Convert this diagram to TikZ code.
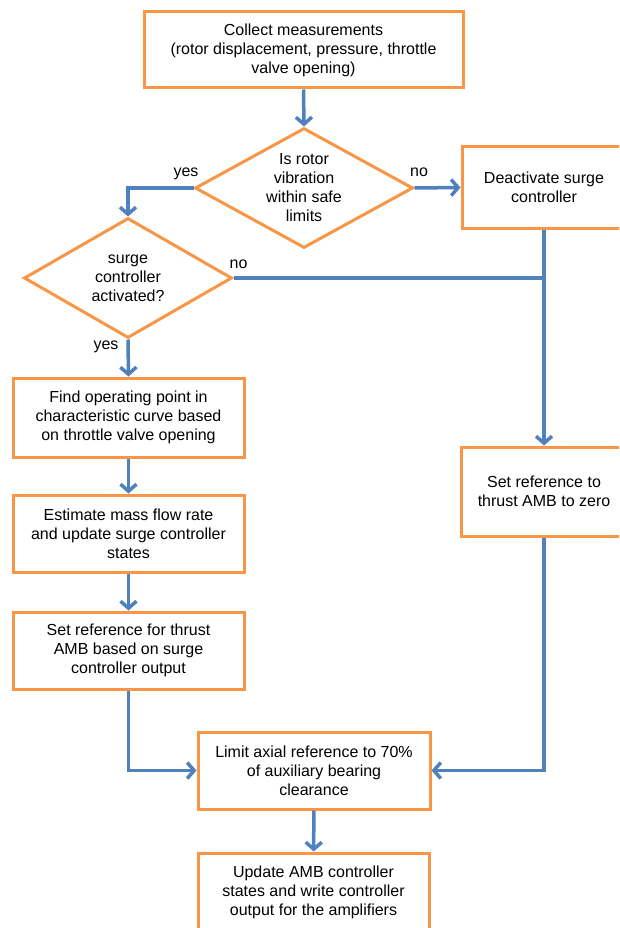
\documentclass[tikz,border=0pt]{standalone}
\usepackage{fontspec}
\setmainfont{Liberation Sans}
\usepackage{xcolor}
\usetikzlibrary{arrows.meta,shapes.geometric}
\definecolor{boxorange}{HTML}{F79646}
\definecolor{flowblue}{HTML}{4F81BD}
\tikzset{
  txt/.style={font={\fontsize{16}{19}\selectfont},align=center},
  process/.style={rectangle,draw=boxorange,fill=white,line width=3pt,txt,inner sep=2pt},
  decision/.style={diamond,draw=boxorange,fill=white,line width=3pt,inner sep=0pt},
  lbl/.style={font={\fontsize{16}{19}\selectfont},inner sep=0pt,anchor=base},
  flow/.style={-{Straight Barb[length=7pt,width=16pt]},draw=flowblue,line width=3.5pt},
  mergeline/.style={draw=flowblue,line width=3.5pt},
}

\begin{document}
\begin{tikzpicture}[x=1pt,y=-1pt]
  \useasboundingbox (0,0) rectangle (619,928);
  \clip (0,0) rectangle (619,928);
  \fill[white] (0,0) rectangle (619,928);

  \node[process,minimum width=319pt,minimum height=76pt] (meas) at (303.5,50)
    {Collect measurements\\(rotor displacement, pressure, throttle\\valve opening)};
  \node[decision,minimum width=218pt,minimum height=120pt,
    label={[txt]center:Is rotor\\vibration\\within safe\\limits}] (vib) at (304,188) {};
  \node[process,minimum width=164pt,minimum height=81pt] (deact) at (544,187.5)
    {Deactivate surge\\controller};
  \node[decision,minimum width=208pt,minimum height=120pt,
    label={[txt]center:surge\\controller\\activated?}] (act) at (128,278) {};
  \node[process,minimum width=231pt,minimum height=79pt] (oppt) at (128.5,417.5)
    {Find operating point in\\characteristic curve based\\on throttle valve opening};
  \node[process,minimum width=231pt,minimum height=77pt] (est) at (128.5,533.5)
    {Estimate mass flow rate\\and update surge controller\\states};
  \node[process,minimum width=231pt,minimum height=77pt] (setref) at (128.5,650.5)
    {Set reference for thrust\\AMB based on surge\\controller output};
  \node[process,minimum width=166pt,minimum height=89pt] (zero) at (544,491.5)
    {Set reference to\\thrust AMB to zero};
  \node[process,minimum width=232pt,minimum height=77pt] (limit) at (314,770.5)
    {Limit axial reference to 70\%\\of auxiliary bearing\\clearance};
  \node[process,minimum width=231pt,minimum height=78pt] (upd) at (313.5,892)
    {Update AMB controller\\states and write controller\\output for the amplifiers};

  % branch labels
  \node[lbl] (yes1) at (186,176) {yes};
  \node[lbl] (no1) at (419,176) {no};
  \node[lbl] (no2) at (238.5,268) {no};
  \node[lbl] (yes2) at (106,349) {yes};

  \draw[flow] (meas.south) -- (vib.north);
  \draw[flow] (vib.west) -| (act.north);
  \draw[flow] (vib.east) -- (deact.west);
  \draw[flow] (deact.south) -- (zero.north);
  \draw[mergeline] (act.east) -- (act.east -| deact.south);
  \draw[flow] (act.south) -- (oppt.north);
  \draw[flow] (oppt) -- (est);
  \draw[flow] (est) -- (setref);
  \draw[flow] (setref.south) |- (limit.west);
  \draw[flow] (zero.south) |- (limit.east);
  \draw[flow] (limit) -- (upd);
\end{tikzpicture}
\end{document}
